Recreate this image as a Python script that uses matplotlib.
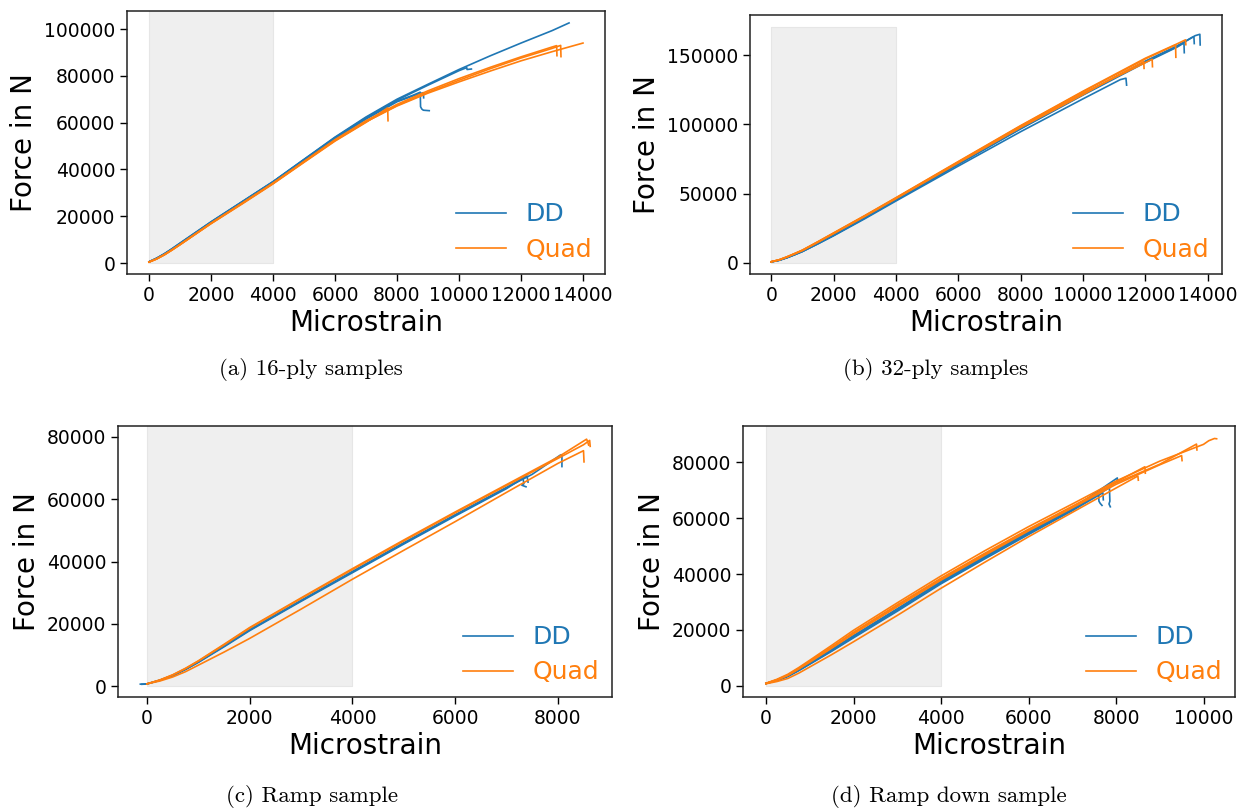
import matplotlib
matplotlib.use("Agg")
import matplotlib.pyplot as plt

# ---------------- data ----------------
# Panel (a): 16-ply samples
a_dd_strain = [
    [0, 250, 500, 750, 1000, 2000, 3000, 4000, 5000, 6000, 7000, 8000, 9000, 10000, 11000, 12000, 13000, 13550],
    [0, 250, 500, 750, 1000, 2000, 3000, 4000, 5000, 6000, 7000, 8000, 9000, 10000, 10250, 10260, 10400],
    [0, 250, 500, 750, 1000, 2000, 3000, 4000, 5000, 6000, 7000, 8000, 8500, 8750, 8760, 8800, 8850, 9040],
    [0, 250, 500, 750, 1000, 2000, 3000, 4000, 5000, 6000, 7000, 8000, 8600, 8850, 8860],
]
a_dd_force = [
    [500, 2100, 4000, 6200, 8500, 17600, 26200, 34800, 44300, 53800, 62400, 70000, 76400, 82700, 88500, 94000, 99300, 102600],
    [500, 2050, 3950, 6100, 8400, 17500, 26100, 34700, 44200, 53600, 62100, 69600, 76000, 82200, 83500, 82700, 82900],
    [500, 2000, 3900, 6000, 8300, 17400, 26000, 34600, 44000, 53300, 61800, 69200, 71600, 73000, 66800, 65800, 65300, 65100],
    [500, 2000, 3850, 5950, 8250, 17300, 25900, 34500, 43900, 53100, 61500, 68900, 71800, 72800, 70600],
]
a_q_strain = [
    [0, 250, 500, 750, 1000, 2000, 3000, 4000, 5000, 6000, 7000, 8000, 9000, 10000, 11000, 12000, 13000, 14000],
    [0, 250, 500, 750, 1000, 2000, 3000, 4000, 5000, 6000, 7000, 8000, 9000, 10000, 11000, 12000, 13000, 13150, 13160],
    [0, 250, 500, 750, 1000, 2000, 3000, 4000, 5000, 6000, 7000, 8000, 9000, 10000, 11000, 12000, 13000, 13280, 13290],
    [0, 250, 500, 750, 1000, 2000, 3000, 4000, 5000, 6000, 7000, 7700, 7710],
]
a_q_force = [
    [400, 1800, 3600, 5700, 7900, 17000, 25500, 34100, 43300, 52500, 60400, 67100, 72600, 77400, 82000, 86400, 90300, 94000],
    [400, 1800, 3600, 5700, 7900, 17000, 25500, 34100, 43400, 52700, 60800, 67800, 73600, 78800, 83600, 88100, 92300, 92900, 88600],
    [400, 1750, 3550, 5650, 7850, 16900, 25400, 34000, 43200, 52300, 60300, 67300, 73000, 78100, 83000, 87600, 91700, 93000, 88200],
    [400, 1750, 3500, 5600, 7800, 16800, 25200, 33800, 43000, 52100, 60100, 66300, 60800],
]

# Panel (b): 32-ply samples
b_dd_strain = [
    [0, 250, 500, 750, 1000, 1500, 2000, 3000, 4000, 6000, 8000, 10000, 12000, 13000, 13600, 13750, 13760],
    [0, 250, 500, 750, 1000, 1500, 2000, 3000, 4000, 6000, 8000, 10000, 12000, 13000, 13500, 13560, 13570],
    [0, 250, 500, 750, 1000, 1500, 2000, 3000, 4000, 6000, 8000, 10000, 12000, 13000, 13240, 13250],
    [0, 250, 500, 750, 1000, 1500, 2000, 3000, 4000, 6000, 8000, 10000, 11200, 11380, 11400],
]
b_dd_force = [
    [800, 2000, 3900, 6100, 8500, 14200, 20200, 32700, 45700, 71700, 97400, 121900, 145600, 156400, 164000, 165000, 157300],
    [800, 1950, 3850, 6050, 8400, 14100, 20000, 32500, 45500, 71400, 97100, 121600, 145200, 155900, 162700, 163000, 158300],
    [800, 1950, 3800, 6000, 8350, 14000, 19900, 32400, 45300, 71100, 96700, 121100, 144600, 155500, 158700, 151700],
    [800, 1900, 3700, 5900, 8200, 13800, 19600, 31900, 44700, 69900, 94700, 118400, 132300, 133300, 128300],
]
b_q_strain = [
    [0, 250, 500, 750, 1000, 1500, 2000, 3000, 4000, 6000, 8000, 10000, 12000, 13000, 13290, 13300],
    [0, 250, 500, 750, 1000, 1500, 2000, 3000, 4000, 6000, 8000, 10000, 12000, 12970, 12980],
    [0, 250, 500, 750, 1000, 1500, 2000, 3000, 4000, 6000, 8000, 10000, 12000, 12220, 12230],
    [0, 250, 500, 750, 1000, 1500, 2000, 3000, 4000, 6000, 8000, 10000, 11000, 11950, 11960],
]
b_q_force = [
    [900, 2300, 4400, 6800, 9300, 15400, 21700, 34200, 47100, 73200, 99100, 123900, 147700, 157900, 161000, 157500],
    [900, 2250, 4350, 6750, 9200, 15300, 21500, 34000, 46900, 72900, 98800, 123500, 147200, 157300, 148400],
    [900, 2200, 4300, 6650, 9100, 15100, 21300, 33800, 46600, 72500, 98200, 122500, 144500, 147000, 141600],
    [900, 2200, 4250, 6600, 9000, 15000, 21200, 33600, 46400, 72200, 97700, 121400, 134000, 145300, 140400],
]

# Panel (c): Ramp sample
c_dd_strain = [
    [-130, 0, 250, 500, 750, 1000, 1500, 2000, 3000, 4000, 5000, 6000, 7000, 7500, 8050, 8080, 8080],
    [0, 250, 500, 750, 1000, 1500, 2000, 3000, 4000, 5000, 6000, 7000, 7320, 7340, 7300, 7380],
    [-100, 0, 250, 500, 750, 1000, 1500, 2000, 3000, 4000, 5000, 6000, 7000, 7400, 7420],
]
c_dd_force = [
    [600, 700, 1850, 3400, 5400, 7700, 12800, 18000, 27400, 36700, 45900, 54900, 63700, 68000, 74200, 74300, 70500],
    [700, 1800, 3300, 5300, 7600, 12600, 17800, 27200, 36400, 45600, 54600, 63400, 66800, 65000, 64500, 64000],
    [550, 650, 1850, 3400, 5450, 7750, 12900, 18100, 27500, 36800, 46000, 55000, 63800, 67500, 65500],
]
c_q_strain = [
    [0, 250, 500, 750, 1000, 1500, 2000, 3000, 4000, 5000, 6000, 7000, 8000, 8560, 8580, 8600],
    [0, 250, 500, 750, 1000, 1500, 2000, 3000, 4000, 5000, 6000, 7000, 8000, 8500, 8620, 8630],
    [0, 250, 500, 750, 1000, 1500, 2000, 3000, 4000, 5000, 6000, 7000, 8000, 8500, 8510],
]
c_q_force = [
    [700, 1950, 3600, 5700, 8100, 13400, 18800, 28300, 37700, 46900, 55900, 64700, 73500, 79300, 78500, 77400],
    [700, 1900, 3550, 5600, 8000, 13200, 18600, 28100, 37400, 46600, 55600, 64400, 73100, 77500, 78900, 77000],
    [700, 1600, 2900, 4600, 6700, 10900, 15300, 24700, 34300, 43600, 52800, 62200, 71500, 75600, 72000],
]

# Panel (d): Ramp down sample
d_dd_strain = [
    [0, 250, 500, 750, 1000, 1500, 2000, 3000, 4000, 5000, 6000, 7000, 7600, 7610, 7640, 7680],
    [0, 250, 500, 750, 1000, 1500, 2000, 3000, 4000, 5000, 6000, 7000, 7850, 7860, 7840, 7870],
    [0, 250, 500, 750, 1000, 1500, 2000, 3000, 4000, 5000, 6000, 7000, 7700, 7710],
    [0, 250, 500, 750, 1000, 1500, 2000, 3000, 4000, 5000, 6000, 7000, 8030, 8035],
]
d_dd_force = [
    [900, 2000, 3500, 5600, 7900, 12600, 17500, 27000, 36800, 45800, 54500, 62800, 69000, 66000, 65200, 64500],
    [900, 2050, 3600, 5750, 8100, 12900, 17800, 27300, 37100, 46100, 54800, 63100, 70800, 66000, 65000, 64000],
    [900, 1950, 3400, 5500, 7800, 12400, 17200, 26700, 36500, 45400, 54100, 62600, 69000, 66500],
    [900, 2100, 3700, 5850, 8200, 13000, 18000, 27600, 37400, 46400, 55100, 63300, 74300, 73000],
]
d_q_strain = [
    [0, 250, 500, 750, 1000, 1500, 2000, 3000, 4000, 5000, 6000, 7000, 8000, 9000, 10000, 10120, 10250, 10300],
    [0, 250, 500, 750, 1000, 1500, 2000, 3000, 4000, 5000, 6000, 7000, 8000, 9000, 9840, 9850],
    [0, 250, 500, 750, 1000, 1500, 2000, 3000, 4000, 5000, 6000, 7000, 8000, 8660, 8670],
    [0, 250, 500, 750, 1000, 1500, 2000, 3000, 4000, 5000, 6000, 7000, 8000, 8500, 8510],
    [0, 250, 500, 750, 1000, 1500, 2000, 3000, 4000, 5000, 6000, 7000, 8000, 9000, 9500, 9510],
]
d_q_force = [
    [1000, 2400, 4200, 6600, 9200, 14500, 19900, 29700, 39300, 48300, 56900, 65000, 73200, 80300, 86300, 87600, 88400, 88300],
    [900, 2200, 3900, 6300, 8800, 13900, 19200, 29000, 38500, 47400, 56000, 64200, 72500, 79200, 86400, 84300],
    [900, 2150, 3850, 6200, 8700, 13700, 18900, 28600, 38100, 47000, 55600, 63800, 72800, 78300, 76000],
    [800, 1600, 2700, 4600, 6800, 11200, 15800, 25200, 34900, 44200, 53300, 62000, 70700, 75000, 73500],
    [900, 2150, 3800, 6100, 8500, 13500, 18600, 28300, 37800, 46700, 55400, 63600, 72000, 79000, 82300, 80500],
]

shade_strain = [0, 4000]
series_labels = ["DD", "Quad"]
captions = ["(a) 16-ply samples", "(b) 32-ply samples", "(c) Ramp sample", "(d) Ramp down sample"]

# ---------------- figure ----------------
W, H = 1242, 808
fig = plt.figure(figsize=(W / 100, H / 100), dpi=100)

BLUE = "#1f77b4"
ORANGE = "#ff7f0e"


def frac(left, top, right, bottom):
    return [left / W, 1 - bottom / H, (right - left) / W, (bottom - top) / H]


panels = [
    dict(rect=frac(127, 11, 605, 274), dd=(a_dd_strain, a_dd_force), q=(a_q_strain, a_q_force),
         xlim=(-710, 14710), ylim=(-4700, 107700), shade_top=115000,
         xticks=range(0, 14001, 2000), yticks=range(0, 100001, 20000)),
    dict(rect=frac(750, 15, 1222, 274), dd=(b_dd_strain, b_dd_force), q=(b_q_strain, b_q_force),
         xlim=(-680, 14460), ylim=(-7940, 178900), shade_top=170000,
         xticks=range(0, 14001, 2000), yticks=range(0, 150001, 50000)),
    dict(rect=frac(118, 426, 612, 697), dd=(c_dd_strain, c_dd_force), q=(c_q_strain, c_q_force),
         xlim=(-565, 9055), ylim=(-3530, 83530), shade_top=90000,
         xticks=range(0, 8001, 2000), yticks=range(0, 80001, 20000)),
    dict(rect=frac(743, 426, 1235, 697), dd=(d_dd_strain, d_dd_force), q=(d_q_strain, d_q_force),
         xlim=(-526, 10720), ylim=(-3930, 92860), shade_top=95000,
         xticks=range(0, 10001, 2000), yticks=range(0, 80001, 20000)),
]

caption_pos = [(311, 370), (936, 370), (312, 796), (949, 796)]

for i, p in enumerate(panels):
    ax = fig.add_axes(p["rect"])
    ax.fill_between(shade_strain, 0, p["shade_top"], facecolor="#efefef",
                    edgecolor="#e6e6e6", linewidth=0.8, zorder=0)
    handles = []
    for k, (xs, ys) in enumerate(zip(*p["dd"])):
        ln, = ax.plot(xs, ys, color=BLUE, lw=1.2, label=series_labels[0] if k == 0 else None)
        if k == 0:
            handles.append(ln)
    for k, (xs, ys) in enumerate(zip(*p["q"])):
        ln, = ax.plot(xs, ys, color=ORANGE, lw=1.2, label=series_labels[1] if k == 0 else None)
        if k == 0:
            handles.append(ln)
    ax.set_xlim(*p["xlim"])
    ax.set_ylim(*p["ylim"])
    ax.set_xticks(list(p["xticks"]))
    ax.set_yticks(list(p["yticks"]))
    ax.tick_params(labelsize=13.5, length=5, width=1)
    for s in ax.spines.values():
        s.set_linewidth(1.1)
        s.set_color("#222222")
    ax.set_xlabel("Microstrain", fontsize=20, labelpad=3)
    ax.set_ylabel("Force in N", fontsize=20)
    ax.legend(handles=handles, loc="lower right", frameon=False, fontsize=18,
              labelcolor="linecolor", borderaxespad=0.2, borderpad=0.3,
              handlelength=2.0, handletextpad=0.8, labelspacing=0.45)
    cx, cy = caption_pos[i]
    fig.text(cx / W, 1 - cy / H, captions[i], ha="center", va="center",
             fontsize=16.5, family="cmr10")

fig.savefig("out.png", dpi=100)
